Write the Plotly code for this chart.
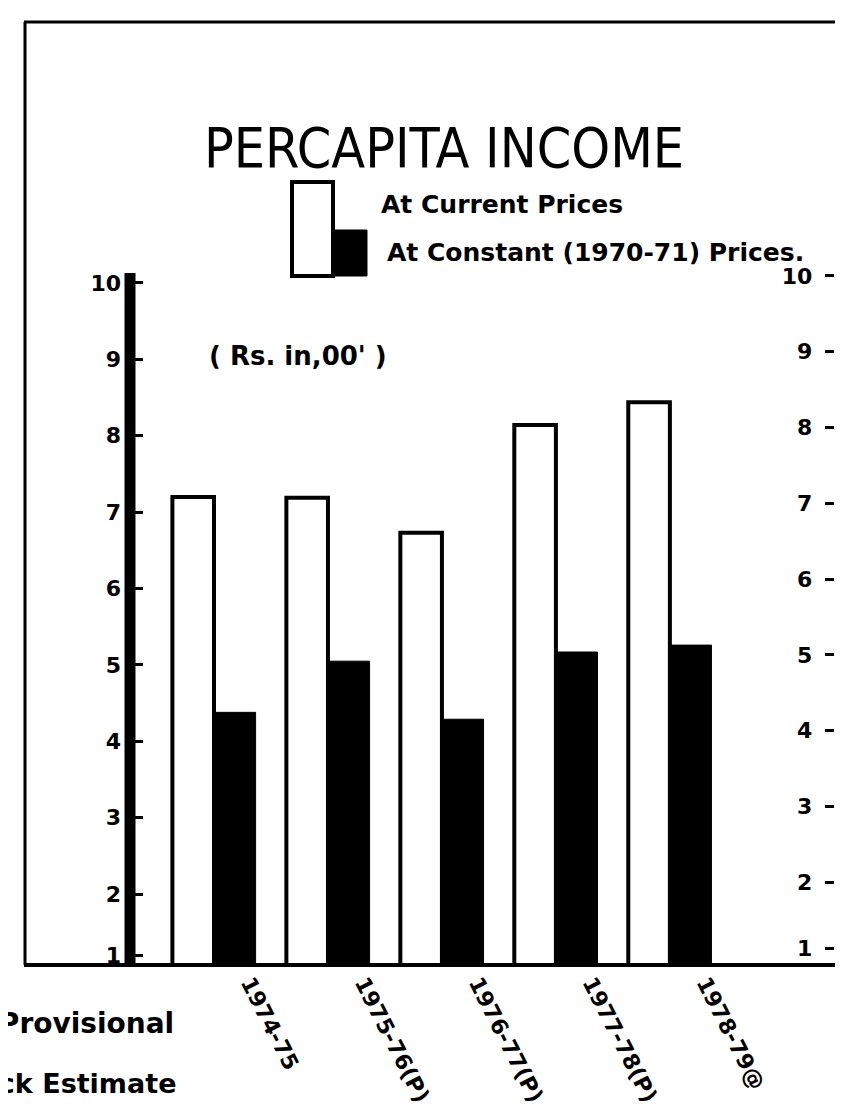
import plotly.graph_objects as go

# ---- data ----
years = ["1974-75", "1975-76(P)", "1976-77(P)", "1977-78(P)", "1978-79@"]
current_prices = [7.20, 7.19, 6.73, 8.14, 8.44]
constant_prices = [4.38, 5.05, 4.29, 5.17, 5.26]
left_tick_vals = [1.2, 2, 3, 4, 5, 6, 7, 8, 9, 10]
right_tick_vals = [1.13, 2, 3, 4, 5, 6, 7, 8, 9, 10]
tick_text = ["1", "2", "3", "4", "5", "6", "7", "8", "9", "10"]

W, H = 843, 1115
ML, MR, MT, MB = 122, 17, 240, 158
PW, PH = W - ML - MR, H - MT - MB


def px(x):
    return (x - ML) / PW


def py(y):
    return (H - MB - y) / PH


BOLD = "DejaVu Sans"
TITLE_FONT = "Liberation Sans Narrow, DejaVu Sans Condensed, Arial Narrow, sans-serif"

fig = go.Figure()
fig.add_trace(go.Bar(
    x=years, y=current_prices, name="At Current Prices",
    marker=dict(color="white", line=dict(color="black", width=4)),
))
fig.add_trace(go.Bar(
    x=years, y=constant_prices, name="At Constant (1970-71) Prices.",
    marker=dict(color="black", line=dict(color="black", width=1)),
))
# invisible trace to activate the right-hand scale
fig.add_trace(go.Scatter(x=[years[0]], y=[5], yaxis="y2", mode="markers",
                         marker=dict(opacity=0), showlegend=False, hoverinfo="skip"))

fig.update_layout(
    width=W, height=H,
    margin=dict(l=ML, r=MR, t=MT, b=MB),
    paper_bgcolor="white", plot_bgcolor="white",
    showlegend=False,
    barmode="group", bargap=0.27, bargroupgap=0.0,
    xaxis=dict(
        type="category", range=[-0.737, 5.44],
        showgrid=False, showline=False, zeroline=False, ticks="",
        tickangle=63, ticklabelshift=36, ticklabelstandoff=0,
        tickfont=dict(family=BOLD, size=22, color="black", weight="bold"),
    ),
    yaxis=dict(
        range=[1.073, 10.458], showgrid=False, zeroline=False, showline=False,
        ticks="inside", ticklen=13, tickwidth=3, tickcolor="black",
        ticklabelstandoff=8,
        tickvals=left_tick_vals, ticktext=tick_text,
        tickfont=dict(family=BOLD, size=22, color="black", weight="bold"),
    ),
    yaxis2=dict(
        range=[0.91, 10.369], overlaying="y", side="right", anchor="free",
        position=1, showgrid=False, zeroline=False, showline=False,
        ticks="inside", ticklen=9, tickwidth=3, tickcolor="black",
        ticklabelposition="inside", ticklabelstandoff=14,
        tickvals=right_tick_vals, ticktext=tick_text,
        tickfont=dict(family=BOLD, size=22, color="black", weight="bold"),
    ),
)

line = dict(color="black", width=3)
shapes = [
    # frame
    dict(type="line", x0=px(16), x1=px(843), y0=py(14), y1=py(14), line=line),
    dict(type="line", x0=px(17), x1=px(17), y0=py(14), y1=py(957), line=line),
    dict(type="line", x0=px(840), x1=px(840), y0=py(14), y1=py(1112), line=line),
    dict(type="line", x0=px(240), x1=px(843), y0=py(1110), y1=py(1110), line=dict(color="black", width=2)),
    # thick left axis line
    dict(type="line", x0=px(122), x1=px(122), y0=py(265), y1=py(957), line=dict(color="black", width=11)),
    # baseline
    dict(type="line", x0=px(16), x1=px(843), y0=py(957), y1=py(957), line=dict(color="black", width=4)),
    # legend key boxes
    dict(type="rect", x0=px(284), x1=px(325), y0=py(268), y1=py(174),
         fillcolor="white", line=dict(color="black", width=4)),
    dict(type="rect", x0=px(325), x1=px(359), y0=py(268), y1=py(222),
         fillcolor="black", line=dict(color="black", width=1)),
]
for s in shapes:
    s.update(xref="paper", yref="paper", layer="above")
fig.update_layout(shapes=shapes)

ann = [
    dict(text="PERCAPITA INCOME", x=px(436), y=py(140),
         font=dict(family=TITLE_FONT, size=55, color="black")),
    dict(text="At Current Prices", x=px(371), y=py(197), xanchor="left",
         font=dict(family=BOLD, size=25, color="black", weight="bold")),
    dict(text="At Constant (1970-71) Prices.", x=px(377), y=py(244), xanchor="left",
         font=dict(family=BOLD, size=25, color="black", weight="bold")),
    dict(text="( Rs. in,00' )", x=px(290), y=py(348),
         font=dict(family=BOLD, size=26, color="black", weight="bold")),
    dict(text="(P) Provisional", x=px(168), y=py(1015), xanchor="right",
         font=dict(family=BOLD, size=28, color="black", weight="bold")),
    dict(text="@ Quick Estimate", x=px(170), y=py(1075), xanchor="right",
         font=dict(family=BOLD, size=27, color="black", weight="bold")),
]
for a in ann:
    a.update(xref="paper", yref="paper", showarrow=False)
    a.setdefault("xanchor", "center")
    a.setdefault("yanchor", "middle")
fig.update_layout(annotations=ann)

fig.write_html("out.html")
